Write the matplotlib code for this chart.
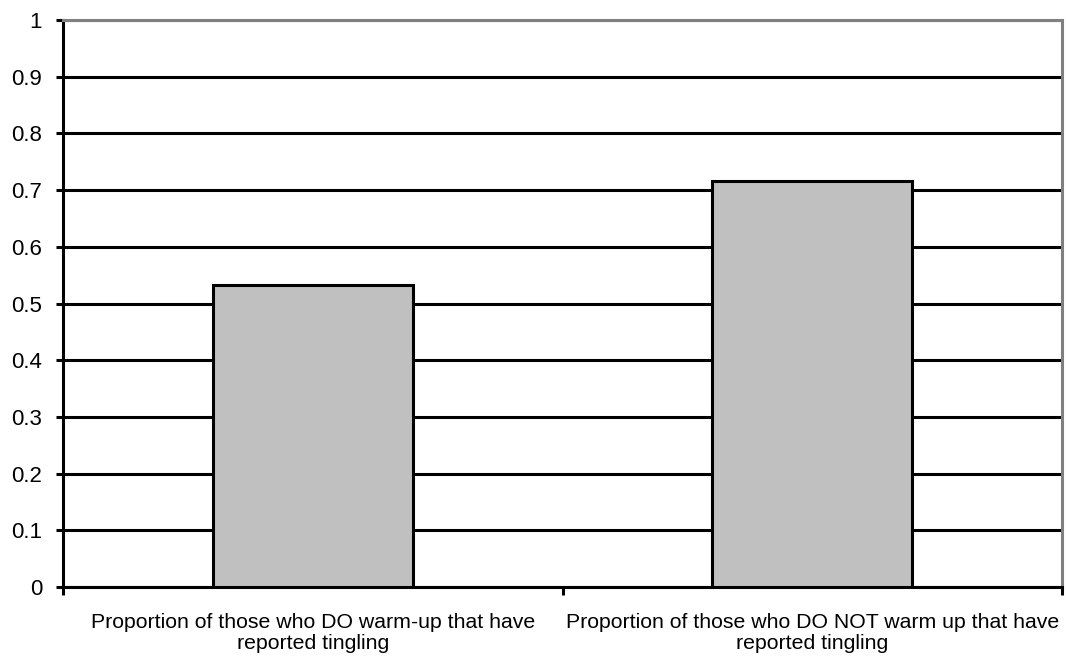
import matplotlib.pyplot as plt
import numpy as np

categories = ['Proportion of those who DO warm-up that have\nreported tingling',
              'Proportion of those who DO NOT warm up that have\nreported tingling']
values = [0.533, 0.716]
yticks = [0, 0.1, 0.2, 0.3, 0.4, 0.5, 0.6, 0.7, 0.8, 0.9, 1]
ytick_labels = ['0', '0.1', '0.2', '0.3', '0.4', '0.5', '0.6', '0.7', '0.8', '0.9', '1']

plt.rcParams['font.family'] = ['Liberation Sans', 'DejaVu Sans']

fig = plt.figure(figsize=(10.66, 6.61), dpi=100)
ax = fig.add_axes([63 / 1066, 74 / 661, 999 / 1066, 567 / 661])

x = np.arange(len(categories))
ax.set_axisbelow(True)
ax.yaxis.grid(True, color='black', linewidth=2.2)
ax.bar(x, values, width=0.4, color='#c0c0c0', edgecolor='black', linewidth=2.2, zorder=3)

ax.set_xlim(-0.5, 1.5)
ax.set_ylim(0, 1)
ax.set_yticks(yticks)
ax.set_yticklabels(ytick_labels, fontsize=16)

# category labels without ticks, tick marks on the boundaries
ax.set_xticks(x)
ax.set_xticklabels(categories, fontsize=15.3, linespacing=1.12)
ax.set_xticks([-0.5, 0.5, 1.5], minor=True)
ax.tick_params(axis='x', which='major', length=0, pad=19)
ax.tick_params(axis='x', which='minor', length=6, width=2.2, direction='out')
ax.tick_params(axis='y', length=5, width=2.2, direction='out', pad=10)

for side in ['left', 'bottom']:
    ax.spines[side].set_linewidth(2.2)
    ax.spines[side].set_color('black')
for side in ['top', 'right']:
    ax.spines[side].set_linewidth(2.2)
    ax.spines[side].set_color('#808080')

fig.savefig('out.png', dpi=100)
